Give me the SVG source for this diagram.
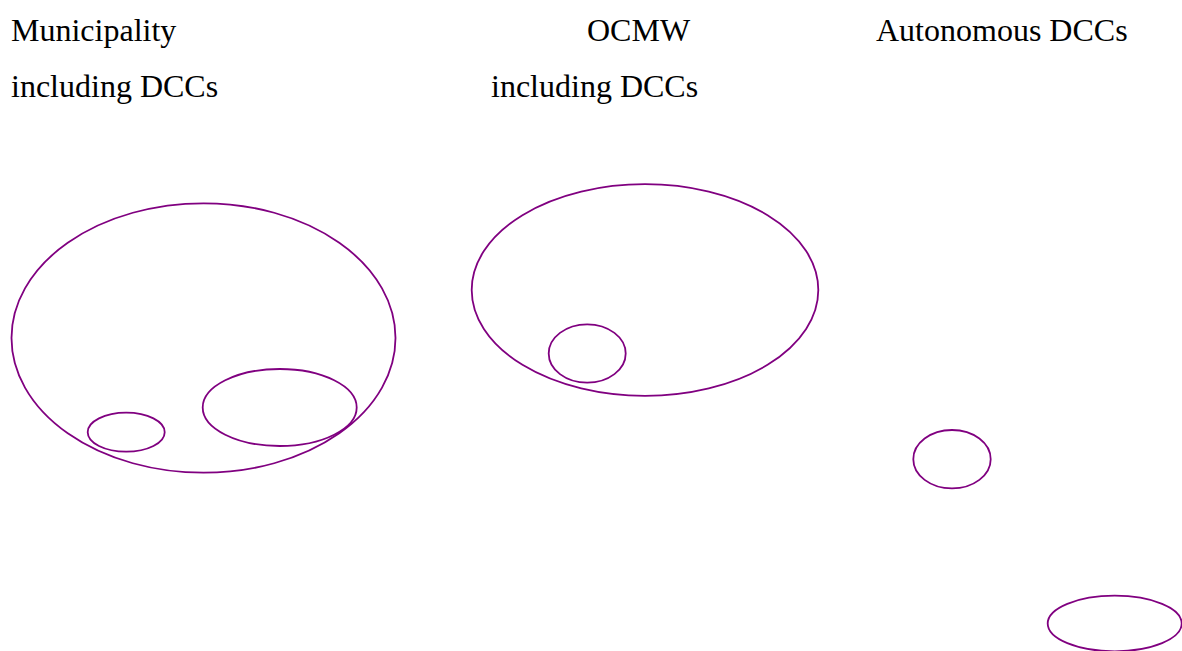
<svg xmlns="http://www.w3.org/2000/svg" width="1182" height="651" viewBox="0 0 1182 651">
<style>
.lbl{font-family:"Liberation Serif","Times New Roman",serif;font-size:32px;fill:#000}
.e{fill:none;stroke:#800080;stroke-width:1.8}
</style>
<rect width="1182" height="651" fill="#fff"/>
<g id="labels">
<text class="lbl" x="11" y="41">Municipality</text>
<text class="lbl" x="11" y="97">including DCCs</text>
<text class="lbl" x="587" y="41">OCMW</text>
<text class="lbl" x="491" y="97">including DCCs</text>
<text class="lbl" x="876" y="41">Autonomous DCCs</text>
</g>
<g id="municipality"><ellipse class="e" cx="203.5" cy="338" rx="192" ry="134.7"/></g>
<g id="mun-small"><ellipse class="e" cx="126.2" cy="432.2" rx="38.5" ry="19.5"/></g>
<g id="mun-mid"><ellipse class="e" cx="279.7" cy="407.5" rx="77" ry="38.5"/></g>
<g id="ocmw"><ellipse class="e" cx="645" cy="290" rx="173.3" ry="105.8"/></g>
<g id="ocmw-small"><ellipse class="e" cx="587.2" cy="353.5" rx="38.5" ry="29.2"/></g>
<g id="dcc-a"><ellipse class="e" cx="952" cy="459.2" rx="38.7" ry="29.2"/></g>
<g id="dcc-b"><ellipse class="e" cx="1114.7" cy="623.5" rx="67" ry="27.8"/></g>
<g id="connectors"></g>
</svg>
